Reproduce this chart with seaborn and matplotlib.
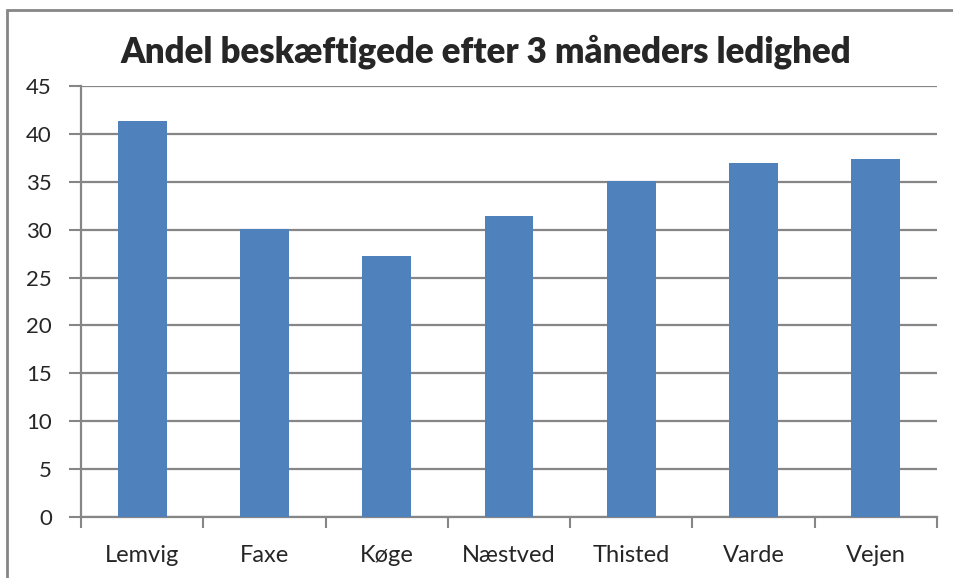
import matplotlib
matplotlib.use("Agg")
import matplotlib.pyplot as plt
import seaborn as sns
import pandas as pd
from matplotlib.patches import Rectangle

title = "Andel beskæftigede efter 3 måneders ledighed"
kommuner = ["Lemvig", "Faxe", "Køge", "Næstved", "Thisted", "Varde", "Vejen"]
andel = [41.3, 30.1, 27.2, 31.4, 35.1, 37.0, 37.4]
yticks = [0, 5, 10, 15, 20, 25, 30, 35, 40, 45]

df = pd.DataFrame({"kommune": kommuner, "andel": andel})

sns.set_theme(style="white")
plt.rcParams["font.family"] = ["Lato", "DejaVu Sans"]

grey = "#868686"
fig = plt.figure(figsize=(9.54, 5.78), dpi=100)
ax = fig.add_axes([81 / 954, 61 / 578, 856 / 954, 431 / 578])

sns.barplot(data=df, x="kommune", y="andel", color="#4F81BD", width=0.4,
            saturation=1, linewidth=0, ax=ax, zorder=3)

ax.set_ylim(0, 45)
ax.set_xlim(-0.5, len(kommuner) - 0.5)
ax.set_yticks(yticks)
ax.set_yticklabels([str(v) for v in yticks], fontsize=16)
ax.yaxis.grid(True, color=grey, linewidth=1.6, zorder=0)
ax.set_axisbelow(True)
ax.set_xlabel("")
ax.set_ylabel("")

# category ticks sit between bars
ax.set_xticks(range(len(kommuner)))
ax.set_xticklabels(kommuner, fontsize=17)
ax.tick_params(axis="x", which="major", length=0, pad=20)
ax.set_xticks([i - 0.5 for i in range(len(kommuner) + 1)], minor=True)
ax.tick_params(axis="x", which="minor", bottom=True, length=8, width=1.5,
               color=grey, direction="out")
ax.tick_params(axis="y", length=9, width=1.5, color=grey, direction="out",
               pad=12, left=True)

for s in ["top", "right"]:
    ax.spines[s].set_visible(False)
for s in ["left", "bottom"]:
    ax.spines[s].set_color(grey)
    ax.spines[s].set_linewidth(1.6)

fig.text(486 / 954, 1 - 52 / 578, title, ha="center", va="center",
         fontsize=25, fontweight="heavy")

fig.patches.append(Rectangle((7 / 954, -0.1), 1.2, 1 - 10 / 578 + 0.1,
                             transform=fig.transFigure, fill=False,
                             edgecolor=grey, linewidth=2))

fig.savefig("out.png", dpi=100)
